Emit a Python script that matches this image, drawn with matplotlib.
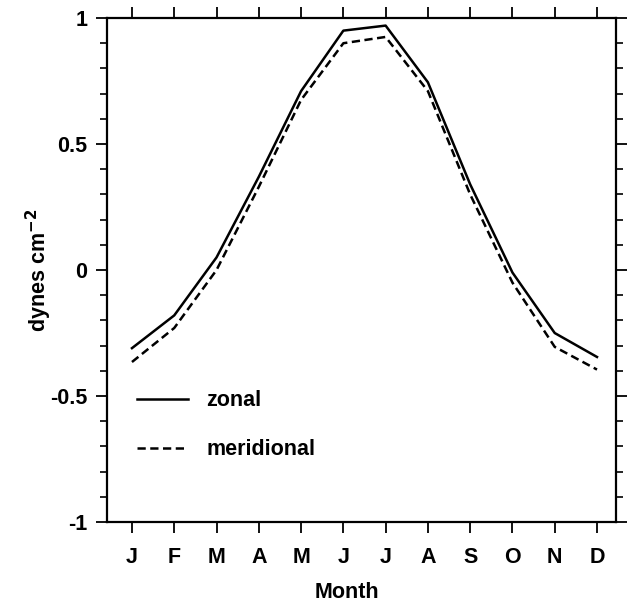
import matplotlib
matplotlib.use("Agg")
import matplotlib.pyplot as plt
from matplotlib.ticker import MultipleLocator

plt.rcParams['font.family'] = ['Liberation Sans', 'DejaVu Sans']
plt.rcParams['font.weight'] = 'bold'
plt.rcParams['axes.labelweight'] = 'bold'
plt.rcParams['mathtext.default'] = 'bf'

# monthly values
months = ["J", "F", "M", "A", "M", "J", "J", "A", "S", "O", "N", "D"]
month_pos = list(range(1, 13))
zonal = [-0.31, -0.18, 0.05, 0.37, 0.71, 0.95, 0.97, 0.745, 0.34, -0.01, -0.25, -0.345]
meridional = [-0.365, -0.23, 0.0, 0.33, 0.675, 0.90, 0.925, 0.71, 0.30, -0.05, -0.305, -0.395]

fig = plt.figure(figsize=(6.27, 6.01), dpi=100)
ax = fig.add_axes([0.1707, 0.1314, 0.8118, 0.8386])

ax.plot(month_pos, zonal, color="black", lw=1.8, label="zonal")
ax.plot(month_pos, meridional, color="black", lw=1.8, linestyle=(0, (3.3, 1.8)), label="meridional")

ax.set_xlim(0.41, 12.45)
ax.set_ylim(-1, 1)
ax.set_xticks(month_pos)
ax.set_xticklabels(months)
ax.set_yticks([-1, -0.5, 0, 0.5, 1])
ax.set_yticklabels(["-1", "-0.5", "0", "0.5", "1"])
ax.yaxis.set_minor_locator(MultipleLocator(0.1))

ax.tick_params(axis="both", which="major", direction="out", length=8, width=1.3,
               labelsize=15.5, top=True, right=True, pad=6)
ax.tick_params(axis="y", which="minor", direction="out", length=5, width=1.2, right=True)
ax.tick_params(axis="x", which="major", labeltop=False, pad=10)
for s in ax.spines.values():
    s.set_linewidth(1.6)

ax.set_xlabel("Month", fontsize=15.5)
ax.xaxis.set_label_coords(0.472, -0.118)
ax.set_ylabel("dynes cm$^{-2}$", fontsize=15.5, labelpad=-3)

ax.legend(loc="upper left", bbox_to_anchor=(0.02, 0.30), frameon=False, fontsize=15.5,
          handlelength=2.4, labelspacing=1.3, handletextpad=0.85)

fig.savefig("out.png", dpi=100)
